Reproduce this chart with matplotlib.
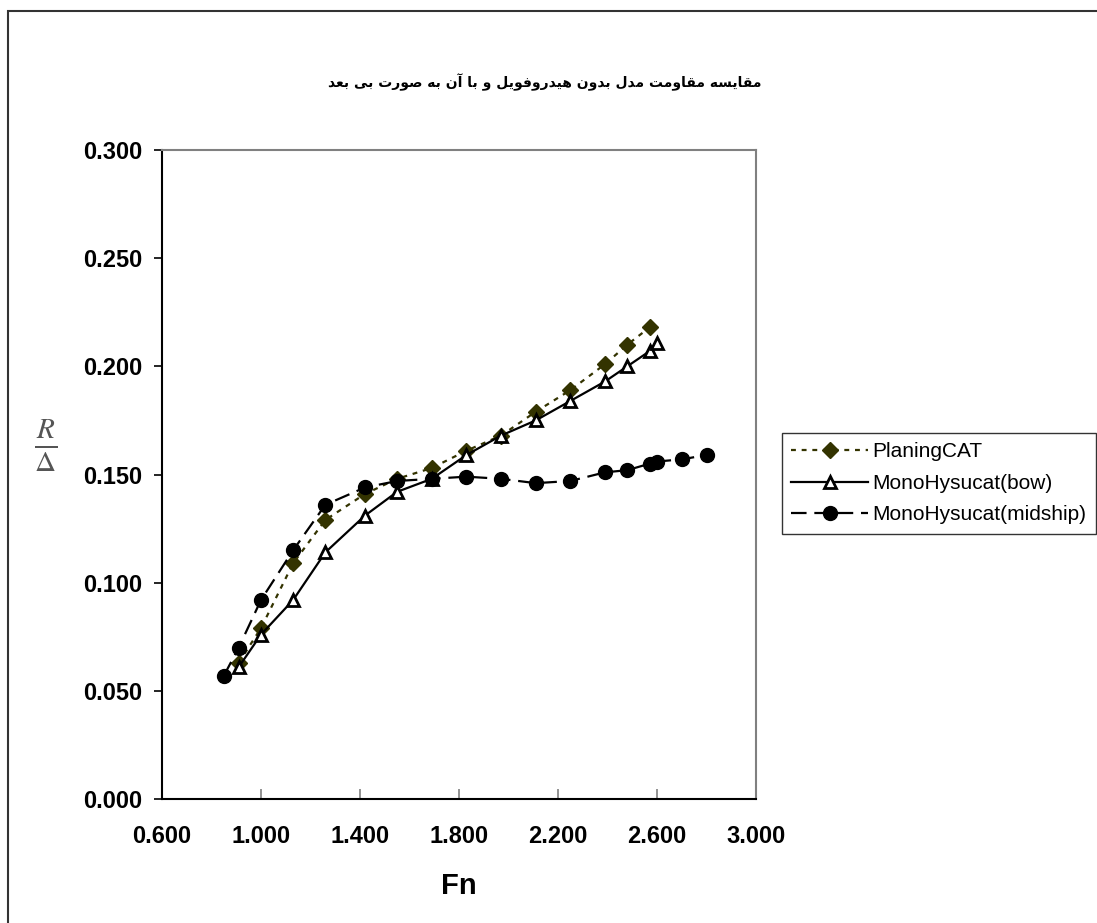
import matplotlib
matplotlib.use("Agg")
import matplotlib.pyplot as plt
from matplotlib.patches import Rectangle

# data
fn_cat = [0.91, 1.00, 1.13, 1.26, 1.42, 1.55, 1.69, 1.83, 1.97, 2.11, 2.25, 2.39, 2.48, 2.57]
r_cat = [0.063, 0.079, 0.109, 0.129, 0.141, 0.148, 0.153, 0.161, 0.168, 0.179, 0.189, 0.201, 0.210, 0.218]

fn_bow = [0.91, 1.00, 1.13, 1.26, 1.42, 1.55, 1.69, 1.83, 1.97, 2.11, 2.25, 2.39, 2.48, 2.57, 2.60]
r_bow = [0.061, 0.076, 0.092, 0.114, 0.131, 0.142, 0.148, 0.159, 0.168, 0.175, 0.184, 0.193, 0.200, 0.207, 0.211]

fn_mid = [0.85, 0.91, 1.00, 1.13, 1.26, 1.42, 1.55, 1.69, 1.83, 1.97, 2.11, 2.25, 2.39, 2.48, 2.57, 2.60, 2.70, 2.80]
r_mid = [0.057, 0.070, 0.092, 0.115, 0.136, 0.144, 0.147, 0.148, 0.149, 0.148, 0.146, 0.147, 0.151, 0.152, 0.155, 0.156, 0.157, 0.159]

labels = ["PlaningCAT", "MonoHysucat(bow)", "MonoHysucat(midship)"]
title_fa = "مقایسه مقاومت مدل بدون هیدروفویل و با آن به صورت بی بعد"

xticks = [0.6, 1.0, 1.4, 1.8, 2.2, 2.6, 3.0]
yticks = [0.0, 0.05, 0.10, 0.15, 0.20, 0.25, 0.30]


# matplotlib has no arabic shaping, so pick presentation forms by hand
# letter: (isolated, final, initial, medial); 2 entries = joins on the right only
FORMS = {
    "ا": (0xFE8D, 0xFE8E), "آ": (0xFE81, 0xFE82), "د": (0xFEA9, 0xFEAA),
    "ر": (0xFEAD, 0xFEAE), "و": (0xFEED, 0xFEEE),
    "ب": (0xFE8F, 0xFE90, 0xFE91, 0xFE92), "ت": (0xFE95, 0xFE96, 0xFE97, 0xFE98),
    "س": (0xFEB1, 0xFEB2, 0xFEB3, 0xFEB4), "ص": (0xFEB9, 0xFEBA, 0xFEBB, 0xFEBC),
    "ع": (0xFEC9, 0xFECA, 0xFECB, 0xFECC), "ف": (0xFED1, 0xFED2, 0xFED3, 0xFED4),
    "ق": (0xFED5, 0xFED6, 0xFED7, 0xFED8), "ل": (0xFEDD, 0xFEDE, 0xFEDF, 0xFEE0),
    "م": (0xFEE1, 0xFEE2, 0xFEE3, 0xFEE4), "ن": (0xFEE5, 0xFEE6, 0xFEE7, 0xFEE8),
    "ه": (0xFEE9, 0xFEEA, 0xFEEB, 0xFEEC), "ی": (0xFBFC, 0xFBFD, 0xFBFE, 0xFBFF),
}


def shape(text):
    out = []
    for i, ch in enumerate(text):
        if ch not in FORMS:
            out.append(ch)
            continue
        f = FORMS[ch]
        prev = text[i - 1] if i > 0 else " "
        nxt = text[i + 1] if i < len(text) - 1 else " "
        jp = prev in FORMS and len(FORMS[prev]) == 4
        jn = len(f) == 4 and nxt in FORMS
        if jp and jn:
            out.append(chr(f[3]))
        elif jp:
            out.append(chr(f[1]))
        elif jn:
            out.append(chr(f[2]))
        else:
            out.append(chr(f[0]))
    return "".join(out)[::-1]


plt.rcParams["mathtext.fontset"] = "stix"

fig = plt.figure(figsize=(10.97, 9.23), dpi=100)
W, H = 1097.0, 923.0
ax = fig.add_axes([162 / W, 1 - 799 / H, 594 / W, 649 / H])

ax.plot(fn_cat, r_cat, color="#333300", lw=1.6, dashes=(2.2, 2.6),
        marker="D", ms=8, mfc="#333300", mec="#333300", label=labels[0])
ax.plot(fn_bow, r_bow, color="black", lw=1.6, ls="-",
        marker="^", ms=9, mfc="white", mec="black", mew=2, label=labels[1])
ax.plot(fn_mid, r_mid, color="black", lw=1.6, dashes=(7, 3.5),
        marker="o", ms=10, mfc="black", mec="black", label=labels[2])

ax.set_xlim(0.6, 3.0)
ax.set_ylim(0.0, 0.3)
ax.set_xticks(xticks)
ax.set_yticks(yticks)
ax.set_xticklabels(["%.3f" % v for v in xticks], fontsize=17, fontweight="bold", family="Liberation Sans")
ax.set_yticklabels(["%.3f" % v for v in yticks], fontsize=17, fontweight="bold", family="Liberation Sans")
ax.tick_params(axis="y", direction="out", length=6, width=1.2, pad=8)
ax.tick_params(axis="x", direction="in", length=7, width=1.2, color="#808080", pad=19)

for side in ["left", "bottom"]:
    ax.spines[side].set_color("black")
    ax.spines[side].set_linewidth(1.5)
for side in ["top", "right"]:
    ax.spines[side].set_color("#808080")
    ax.spines[side].set_linewidth(1.5)

ax.set_xlabel("Fn", fontsize=21, fontweight="bold", family="Liberation Sans", labelpad=17)
fig.text(46 / W, 1 - 446 / H, r"$\frac{R}{\Delta}$", fontsize=30, color="#555555",
         ha="center", va="center")

fig.text(545 / W, 1 - 82 / H, shape(title_fa), fontsize=10, fontweight="bold",
         family="DejaVu Sans", ha="center", va="center")

leg = fig.legend(loc="upper left", bbox_to_anchor=(782 / W, 1 - 433 / H),
                 prop={"family": "Liberation Sans", "size": 15},
                 frameon=True, fancybox=False, edgecolor="black",
                 handlelength=3.7, handletextpad=0.2, labelspacing=0.6,
                 borderpad=0.45, borderaxespad=0)
leg.get_frame().set_linewidth(1.0)

# outer chart border
fig.add_artist(Rectangle((8 / W, -0.1), 1.2, 1 - 11 / H + 0.1, transform=fig.transFigure,
                         fill=False, ec="#333333", lw=1.5))

fig.savefig("out.png", dpi=100)
